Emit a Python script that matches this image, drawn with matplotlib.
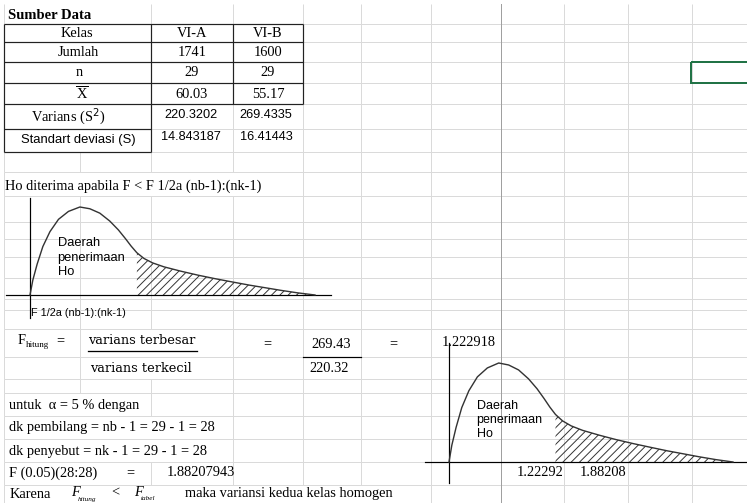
import numpy as np
import matplotlib.pyplot as plt
from matplotlib.patches import Rectangle
from matplotlib.collections import LineCollection

# ---- values ----
kelas = ['VI-A', 'VI-B']
jumlah = ['1741', '1600']
n_siswa = ['29', '29']
rata_rata = ['60.03', '55.17']
varians = ['220.3202', '269.4335']
std_dev = ['14.843187', '16.41443']
var_besar = '269.43'
var_kecil = '220.32'
f_hitung = '1.222918'
f_tabel = '1.88207943'
tick_labels = ['1.22292', '1.88208']

# sketch of the F curve (fraction of width, fraction of peak height)
curve_u = [0.0, 0.01, 0.025, 0.045, 0.07, 0.10, 0.135, 0.175, 0.21, 0.245,
           0.28, 0.31, 0.335, 0.355, 0.375, 0.40, 0.43, 0.47, 0.53, 0.59,
           0.65, 0.71, 0.77, 0.83, 0.88, 0.94, 1.0]
curve_v = [0.0, 0.17, 0.35, 0.55, 0.72, 0.86, 0.95, 1.0, 0.98, 0.93,
           0.84, 0.74, 0.64, 0.555, 0.48, 0.415, 0.365, 0.32, 0.27, 0.225,
           0.185, 0.148, 0.112, 0.08, 0.053, 0.024, 0.0]
hatch_from = 0.375

# ---- sheet layout (pixels) ----
W, H = 747, 503
PX = 0.72  # one pixel in points at dpi 100
col_x = [4, 80, 151, 233, 303, 361, 431, 501, 564, 628, 692]
row_y = [4, 24, 42, 62, 83, 104, 129, 152, 172, 196, 222, 239, 257, 278,
         299, 310, 329, 357, 379, 393, 416, 439, 462, 485, H]
# vertical gridlines hidden by merged cells / overflowing text, per row
hidden = {0: [80], 1: [80], 2: [80], 3: [80], 4: [80], 5: [80], 6: [80],
          8: [80, 151, 233], 16: [151], 17: [151], 19: [80],
          20: [80, 151], 21: [80, 151], 22: [80],
          23: [80, 151, 233, 303, 361]}

SERIF = ['Liberation Serif', 'DejaVu Serif']
SANS = ['Liberation Sans', 'DejaVu Sans']
GRID = '#dadada'

plt.rcParams['hatch.linewidth'] = 0.7
plt.rcParams['hatch.color'] = '#333333'

fig = plt.figure(figsize=(W / 100, H / 100), dpi=100)
ax = fig.add_axes([0, 0, 1, 1])
ax.set_xlim(0, W)
ax.set_ylim(H, 0)
ax.axis('off')

# gridlines
segs = []
for i in range(len(row_y) - 1):
    for x in col_x:
        if x == 501 or x in hidden.get(i, []):
            continue
        segs.append([(x, row_y[i]), (x, row_y[i + 1])])
for y in row_y[1:-1]:
    segs.append([(4, y), (W, y)])
ax.add_collection(LineCollection(segs, colors=GRID, linewidths=PX, zorder=1))
ax.plot([501, 501], [4, H], color='#a0a0a0', lw=PX, zorder=1)

# table borders
blk = []
for y in [24, 42, 62, 83, 104]:
    blk.append([(4, y), (303, y)])
for y in [129, 152]:
    blk.append([(4, y), (151, y)])
blk.append([(151, 24), (151, 152)])
for x in [233, 303]:
    blk.append([(x, 24), (x, 104)])
blk.append([(4, 24), (4, 152)])
ax.add_collection(LineCollection(blk, colors='#222222', linewidths=PX * 1.2, zorder=3))

# selected cell
ax.add_patch(Rectangle((691, 62), 70, 21, fill=False, edgecolor='#217346',
                       lw=2 * PX, zorder=4))

# ---- table text ----
ax.text(8, 15, 'Sumber Data', family=SERIF, fontsize=10.5, weight='bold', va='center')
tfs = 10.4
ax.text(77, 33, 'Kelas', family=SERIF, fontsize=tfs, ha='center', va='center')
ax.text(78, 52, 'Jumlah', family=SERIF, fontsize=tfs, ha='center', va='center')
ax.text(79, 72, 'n', family=SERIF, fontsize=tfs, ha='center', va='center')
ax.text(82, 94, 'X', family=SERIF, fontsize=tfs, ha='center', va='center')
ax.plot([76, 88], [86, 86], color='black', lw=PX, zorder=3)
ax.text(68, 117, 'Varians (S$^{2}$)', family=SERIF, fontsize=tfs, ha='center', va='center')
ax.text(78, 140, 'Standart deviasi (S)', family=SANS, fontsize=9.4, ha='center', va='center')
for y, vals in [(33, kelas), (52, jumlah), (72, n_siswa), (94, rata_rata)]:
    for cx, v in zip([192, 268], vals):
        ax.text(cx, y, v, family=SERIF, fontsize=tfs, ha='center', va='center')
for y, vals in [(115, varians), (137, std_dev)]:
    for cx, v in zip([191, 266], vals):
        ax.text(cx, y, v, family=SANS, fontsize=9.2, ha='center', va='center')

ax.text(5, 186, 'Ho diterima apabila F < F 1/2a (nb-1):(nk-1)', family=SERIF,
        fontsize=tfs, va='center')


# ---- F curves ----
def draw_curve(x0, y0, w, h, fs, spacing):
    u = np.array(curve_u)
    v = np.array(curve_v)
    xs = x0 + u * w
    ys = y0 - v * h
    ax.plot(xs, ys, color='#333333', lw=1.4 * PX, zorder=5,
            solid_joinstyle='round')
    m = u >= hatch_from
    ax.fill_between(xs[m], ys[m], y0, facecolor='none', edgecolor='#333333',
                    hatch='////', lw=0, zorder=4)
    ax.text(x0 + 0.097 * w, y0 - 0.425 * h, 'Daerah\npenerimaan\nHo', family=SANS,
            fontsize=fs, va='center', linespacing=spacing, zorder=6)


# chart 1
ax.plot([6, 331], [295, 295], color='black', lw=1.2 * PX, zorder=5)
ax.plot([30, 30], [198, 318], color='black', lw=1.2 * PX, zorder=5)
draw_curve(30, 295, 285, 88, 9.3, 1.3)
ax.text(31, 313, 'F 1/2a (nb-1):(nk-1)', family=SANS, fontsize=7.8, va='center')

# chart 2
ax.text(442, 343, f_hitung, family=SERIF, fontsize=tfs, va='center')
ax.plot([425, W], [462, 462], color='black', lw=1.2 * PX, zorder=5)
ax.plot([449, 449], [343, 483], color='black', lw=1.2 * PX, zorder=5)
draw_curve(449, 462, 284, 99, 9.0, 1.22)
for cx, lab in zip([540, 603], tick_labels):
    ax.text(cx, 472, lab, family=SERIF, fontsize=tfs, ha='center', va='center')

# ---- F hitung ----
ax.text(18, 341, 'F', family=SERIF, fontsize=tfs, va='center')
ax.text(25.5, 345, 'hitung', family=SERIF, fontsize=6.5, va='center')
ax.text(60, 341, '=', family=SERIF, fontsize=tfs, ha='center', va='center')
ax.text(88, 340, 'varians terbesar', family=['DejaVu Serif'], fontsize=9.3, va='center')
ax.plot([88, 197], [351, 351], color='black', lw=1.3 * PX, zorder=3)
ax.text(90, 368, 'varians terkecil', family=['DejaVu Serif'], fontsize=9.3, va='center')
ax.text(267, 344, '=', family=SERIF, fontsize=tfs, ha='center', va='center')
ax.text(331, 344, var_besar, family=SERIF, fontsize=tfs, ha='center', va='center')
ax.plot([303, 361], [357, 357], color='black', lw=1.2 * PX, zorder=3)
ax.text(329, 368, var_kecil, family=SERIF, fontsize=tfs, ha='center', va='center')
ax.text(393, 344, '=', family=SERIF, fontsize=tfs, ha='center', va='center')

# ---- lower notes ----
ax.text(9, 405, 'untuk  \u03b1 = 5 % dengan', family=SERIF, fontsize=tfs, va='center')
ax.text(9, 428, 'dk pembilang = nb - 1 = 29 - 1 = 28', family=SERIF, fontsize=tfs, va='center')
ax.text(9, 451, 'dk penyebut = nk - 1 = 29 - 1 = 28', family=SERIF, fontsize=tfs, va='center')
ax.text(9, 473, 'F (0.05)(28:28)', family=SERIF, fontsize=tfs, va='center')
ax.text(130, 473, '=', family=SERIF, fontsize=tfs, ha='center', va='center')
ax.text(167, 473, f_tabel, family=SERIF, fontsize=tfs, va='center')
ax.text(10, 494, 'Karena', family=SERIF, fontsize=tfs, va='center')
ax.text(71, 492, 'F', family=SERIF, fontsize=tfs, style='italic', va='center')
ax.text(78, 499, 'hitung', family=SERIF, fontsize=5.2, style='italic', va='center')
ax.text(115, 493, '<', family=SERIF, fontsize=tfs, ha='center', va='center')
ax.text(134, 492, 'F', family=SERIF, fontsize=tfs, style='italic', va='center')
ax.text(141, 499, 'tabel', family=SERIF, fontsize=5.2, style='italic', va='center')
ax.text(185, 494, 'maka variansi kedua kelas homogen', family=SERIF, fontsize=tfs,
        va='center')

fig.savefig('out.png', dpi=100)
